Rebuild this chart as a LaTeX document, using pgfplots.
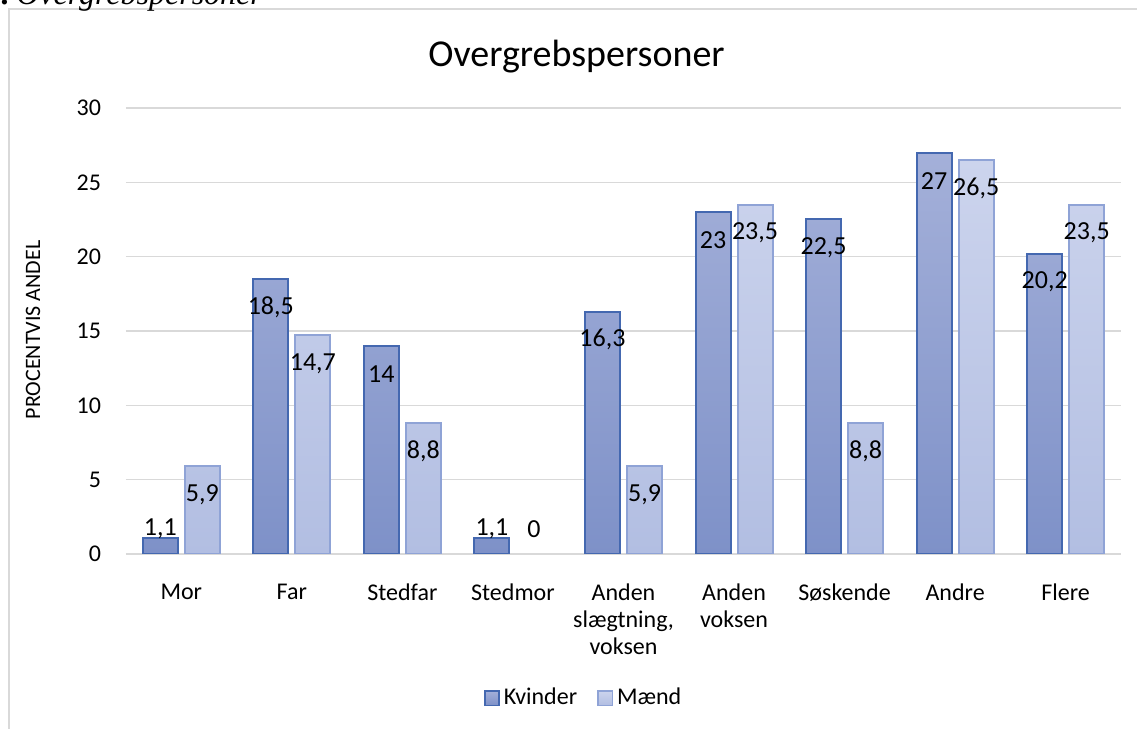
\documentclass[border=0pt]{standalone}
\usepackage{pgfplots}
\pgfplotsset{compat=1.18}
\usepackage{fontspec}
\setmainfont{Carlito}
\newfontfamily\capfont{Liberation Serif}
\definecolor{kvdraw}{RGB}{68,104,176}
\definecolor{kvtop}{RGB}{164,176,217}
\definecolor{kvbot}{RGB}{126,145,200}
\definecolor{mdraw}{RGB}{143,163,214}
\definecolor{mtop}{RGB}{204,212,237}
\definecolor{mbot}{RGB}{178,190,226}
\definecolor{gridgray}{RGB}{217,217,217}
\begin{document}
\begin{tikzpicture}[x=0.5pt,y=0.5pt]
\useasboundingbox (0,0) rectangle (1137,729);
\begin{scope}
\clip (0,0) rectangle (1137,729);
\draw[gridgray, line width=0.6pt] (9,-10) -- (9,720) -- (1150,720);
\node[anchor=base west, inner sep=0pt, font=\capfont\fontsize{16}{16}\selectfont\itshape] at (16,724) {Overgrebspersoner};
\node[anchor=base east, inner sep=0pt, font=\capfont\fontsize{16}{16}\selectfont\itshape\bfseries] at (12,724) {Figur 3:};
\end{scope}
\node[anchor=base, inner sep=0pt, font=\fontsize{19}{20}\selectfont] at (576.5,662.3) {Overgrebspersoner};
\node[rotate=90, inner sep=0pt, font=\fontsize{11}{12}\selectfont] at (33,399) {PROCENTVIS ANDEL};
\begin{axis}[
  at={(63pt,87.5pt)}, anchor=south west,
  width=497.5pt, height=223pt, scale only axis,
  xmin=-0.5, xmax=8.5, ymin=0, ymax=30,
  ytick={0,5,...,30},
  xtick={0,...,8},
  xticklabels={Mor,Far,Stedfar,Stedmor,{Anden\\slægtning,\\voksen},{Anden\\voksen},Søskende,Andre,Flere},
  axis line style={draw=none},
  tick style={draw=none},
  ymajorgrids,
  grid style={gridgray, line width=0.75pt},
  /pgf/number format/assume math mode=true,
  y tick label style={font=\fontsize{12}{13}\selectfont, anchor=east, xshift=-9pt},
  x tick label style={font=\fontsize{12}{13.5}\selectfont, align=center, anchor=north, yshift=-7.3pt},
  ybar, bar width=0.3165,
  legend image code/.code={\draw[#1, line width=0.75pt] (0pt,-3.6pt) rectangle (7.2pt,3.6pt);},
  legend style={at={(0.461,-0.323)}, anchor=center, draw=none, legend columns=2,
    font=\fontsize{12}{13}\selectfont,
    /tikz/every even column/.append style={column sep=8pt}},
  nodes near coords={\pgfmathprintnumber[use comma, assume math mode=true]{\pgfplotspointmeta}},
  visualization depends on={y \as \rawy},
  every node near coord/.append style={anchor=center, text=black, font=\fontsize{13}{13}\selectfont,
    yshift={ifthenelse(\rawy<0.5,12.5,ifthenelse(\rawy<3,4.5,-14))}},
]
\addplot[bar shift=-0.19, draw=kvdraw, line width=1pt, top color=kvtop, bottom color=kvbot]
  coordinates {(0,1.1) (1,18.5) (2,14) (3,1.1) (4,16.3) (5,23) (6,22.5) (7,27) (8,20.2)};
\addplot[bar shift=0.19, draw=mdraw, line width=1pt, top color=mtop, bottom color=mbot]
  coordinates {(0,5.9) (1,14.7) (2,8.8) (4,5.9) (5,23.5) (6,8.8) (7,26.5) (8,23.5)};
\addplot[bar shift=0.19, draw=none, fill=none, forget plot]
  coordinates {(3,0)};
\legend{Kvinder,Mænd}
\end{axis}
\end{tikzpicture}
\end{document}
